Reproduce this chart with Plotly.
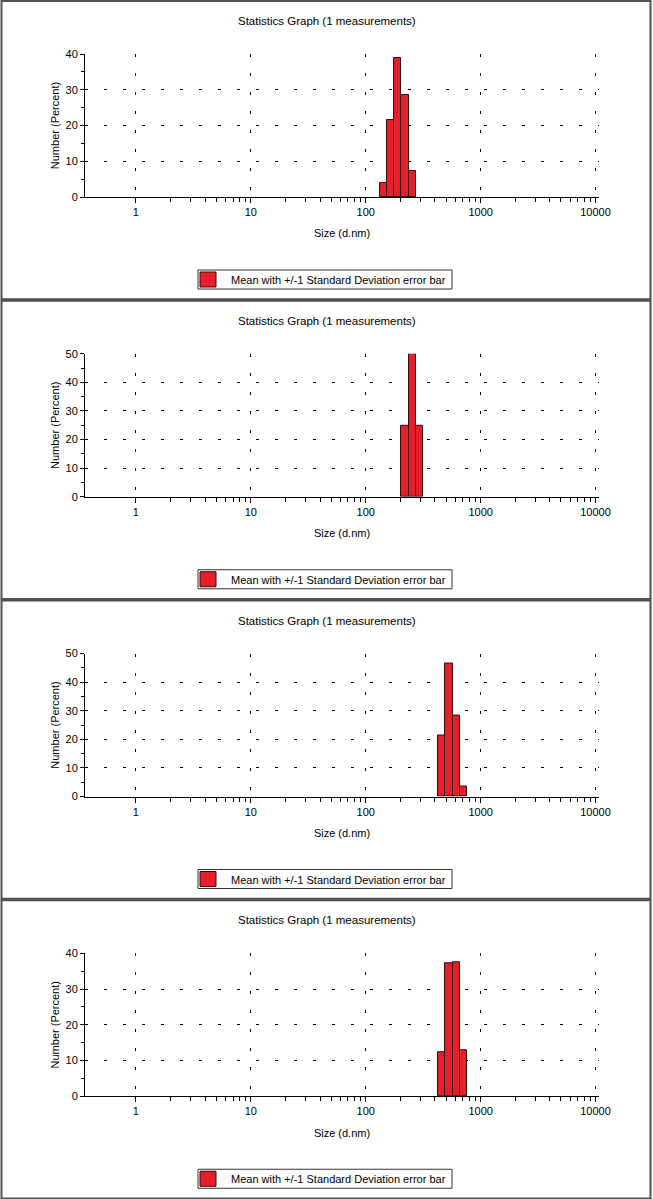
import numpy as np
import plotly.graph_objects as go

# Zetasizer size bins (d.nm) and number distribution (%) for each of the 4 measurements
sizes_1 = [141.8, 164.2, 190.1, 220.2, 255.0]
number_1 = [4.0, 21.6, 38.8, 28.4, 7.2]

sizes_2 = [220.2, 255.0, 295.3]
number_2 = [25.0, 50.0, 25.0]

sizes_3 = [458.7, 531.2, 615.1, 712.4]
number_3 = [21.4, 46.6, 28.4, 3.6]

sizes_4 = [458.7, 531.2, 615.1, 712.4]
number_4 = [12.4, 37.2, 37.6, 12.8]

y_max = [40, 50, 50, 40]

x_tick_labels = ["1", "10", "100", "1000", "10000"]

title_text = "Statistics Graph (1 measurements)"
legend_text = "Mean with +/-1 Standard Deviation error bar"

W, H = 653, 1199
PANEL_H = H / 4
RED = "#E5202A"
EDGE = "#3a0808"
FONT = "Liberation Sans, Arial, sans-serif"

panels = [(sizes_1, number_1), (sizes_2, number_2), (sizes_3, number_3), (sizes_4, number_4)]

major_x = [np.log10(float(t)) for t in x_tick_labels]
minor_x = [np.log10(m * 10.0 ** d) for d in range(0, 4) for m in range(2, 10)]


def py(pix):
    # pixel from top -> paper y
    return 1 - pix / H


fig = go.Figure()
shapes = []
annotations = []

for i, (sizes, number) in enumerate(panels):
    n = i + 1
    sfx = "" if n == 1 else str(n)
    top = i * PANEL_H
    logx = np.log10(sizes)
    width = np.log10(sizes[1] / sizes[0])

    fig.add_trace(go.Bar(
        x=logx, y=number, width=width,
        marker=dict(color=RED, line=dict(color=EDGE, width=1)),
        xaxis="x" + sfx, yaxis="y" + sfx, showlegend=False,
    ))

    fig.update_layout({
        "xaxis" + sfx: dict(
            domain=[85 / W, 599 / W], range=[-0.443, 4.03], anchor="y" + sfx,
            automargin=False,
            tickmode="array", tickvals=major_x, ticktext=x_tick_labels,
            ticks="outside", ticklen=5, tickcolor="black",
            minor=dict(tickmode="array", tickvals=minor_x, ticks="outside",
                       ticklen=4, tickcolor="black", showgrid=False),
            showline=True, linecolor="black", linewidth=1,
            showgrid=True, gridcolor="black", gridwidth=1, griddash="3px,16px",
            zeroline=False,
            tickfont=dict(family=FONT, size=11, color="black"),
            title=dict(text="Size (d.nm)", standoff=12,
                       font=dict(family=FONT, size=11, color="black")),
        ),
        "yaxis" + sfx: dict(
            domain=[py(top + 197), py(top + 54)], range=[0, y_max[i]], anchor="x" + sfx,
            automargin=False,
            dtick=10, ticks="outside", ticklen=4, tickcolor="black",
            minor=dict(dtick=5, ticks="outside", ticklen=3, tickcolor="black", showgrid=False),
            showline=True, linecolor="black", linewidth=1,
            showgrid=True, gridcolor="black", gridwidth=1, griddash="3px,16px",
            zeroline=False,
            tickfont=dict(family=FONT, size=11, color="black"),
            title=dict(text="Number (Percent)", standoff=3,
                       font=dict(family=FONT, size=11, color="black")),
        ),
    })

    # panel frame
    shapes.append(dict(type="rect", xref="paper", yref="paper",
                       x0=1.5 / W, x1=650.5 / W, y0=py(top + PANEL_H - 0.5), y1=py(top + 1),
                       line=dict(color="#505050", width=2)))
    # legend box and swatch
    shapes.append(dict(type="rect", xref="paper", yref="paper",
                       x0=198 / W, x1=452 / W, y0=py(top + 289), y1=py(top + 270),
                       line=dict(color="#333333", width=1)))
    shapes.append(dict(type="rect", xref="paper", yref="paper",
                       x0=200 / W, x1=216 / W, y0=py(top + 287), y1=py(top + 272),
                       fillcolor=RED, line=dict(color=EDGE, width=1)))

    annotations.append(dict(text=title_text, xref="paper", yref="paper",
                            x=327 / W, y=py(top + 21), xanchor="center", yanchor="middle",
                            showarrow=False, font=dict(family=FONT, size=11.5, color="black")))
    annotations.append(dict(text=legend_text, xref="paper", yref="paper",
                            x=229 / W, y=py(top + 280), xanchor="left", yanchor="middle",
                            showarrow=False, font=dict(family=FONT, size=11, color="black")))

fig.update_layout(
    width=W, height=H, autosize=False,
    margin=dict(l=0, r=0, t=0, b=0, autoexpand=False),
    paper_bgcolor="white", plot_bgcolor="white",
    bargap=0, shapes=shapes, annotations=annotations,
)

# drop the browser's default body margin so the figure fills the window exactly
fig.write_html("out.html", config={"displayModeBar": False},
               post_script="document.body.style.margin='0';")
